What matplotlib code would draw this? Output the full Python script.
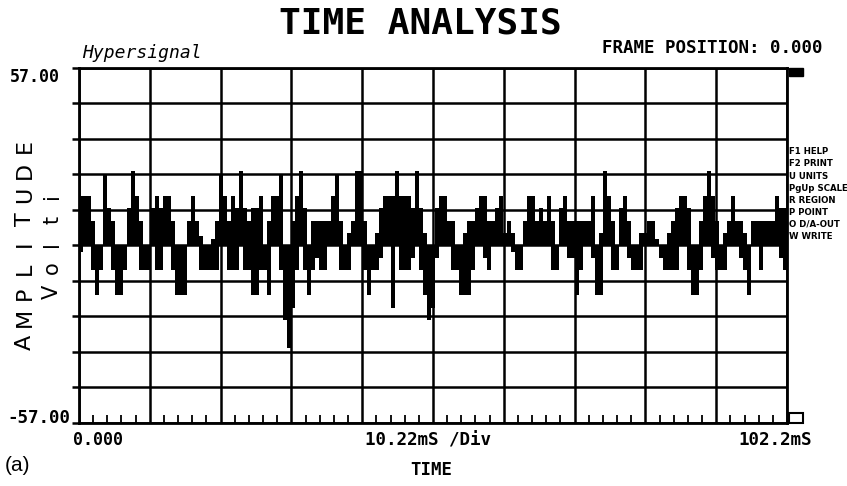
import numpy as np
import matplotlib
matplotlib.use("Agg")
import matplotlib.pyplot as plt
from matplotlib.patches import Rectangle

# ---- chart data -------------------------------------------------------
title = "TIME ANALYSIS"
t_start_ms = 0.0
t_end_ms = 102.2
amp_max = 57.0
x_div_label = "10.22mS /Div"
x_start_label = "0.000"
x_end_label = "102.2mS"
y_top_label = "57.00"
y_bottom_label = "-57.00"
frame_label = "FRAME POSITION: 0.000"

# per-column envelope of the waveform (volts), 177 equal time slices
upper_v = [16, 16, 16, 8, 0, 0, 23, 12, 8, 0, 0, 0, 12, 24, 16, 8, 0, 0, 12, 16,
           12, 16, 16, 8, 0, 0, 0, 8, 16, 8, 3, 0, 0, 2, 8, 23, 16, 8, 16, 12,
           24, 12, 8, 12, 12,
           16, 0, 8, 16, 16, 23, 0, 0, 8, 16, 24, 12, 0, 8, 8, 8, 8, 8, 16, 23,
           8, 0, 4, 8, 24, 24, 8, 0, 0, 4, 12, 16, 16, 16, 24, 16, 16, 16, 12, 24,
           12, 4, 0, 0,
           12, 16, 16, 8, 8, 0, 0, 4, 8, 8, 12, 16, 16, 8, 8, 12, 16, 4, 8, 4,
           0, 0, 8, 16, 16, 8, 12, 8, 16, 8, 0, 12, 16, 8, 8, 8, 8, 8, 8, 16,
           0, 4, 24, 16,
           8, 0, 12, 16, 8, 0, 0, 4, 4, 8, 8, 2, 0, 0, 4, 8, 12, 16, 16, 12,
           0, 0, 8, 16, 24, 16, 8, 0, 4, 8, 16, 8, 8, 4, 0, 8, 8, 8, 8, 8,
           8, 16, 12, 12]
lower_v = [-2, 0, 0, -8, -16, -8, 0, 0, -8, -16, -16, -8, 0, 0, 0, -8, -8, -8, 0, -8,
           -8, 0, 0, -8, -16, -16, -16, 0, 0, 0, -8, -8, -8, -8, -8, 0, 0, -8, -8, -8,
           0, -8, -8, -16, -16,
           -8, -8, -16, 0, 0, -8, -24, -33, -20, -8, 0, -8, -16, -8, -4, -8, -8, 0, 0, 0,
           -8, -8, -8, 0, 0, 0, -8, -16, -8, -8, -4, 0, 0, -20, 0, -8, -8, -8, -4, 0,
           -8, -16, -24, -20,
           -4, 0, 0, 0, -8, -8, -16, -16, -16, -8, 0, 0, -4, -8, 0, 0, 0, 0, 0, -2,
           -8, -8, 0, 0, 0, 0, 0, 0, 0, -8, -8, 0, 0, -4, -4, -16, -8, 0, 0, -4,
           -16, -16, 0, 0,
           -8, -8, 0, 0, -4, -8, -8, -8, 0, 0, 0, 0, -4, -8, -8, -8, -8, 0, 0, -8,
           -16, -16, -8, 0, 0, -4, -8, -8, -8, 0, 0, 0, -4, -8, -16, 0, 0, -8, 0, 0,
           0, 0, -4, -8]

menu_items = ["F1 HELP", "F2 PRINT", "U UNITS", "PgUp SCALE",
              "R REGION", "P POINT", "O D/A-OUT", "W WRITE"]

# ---- figure -------------------------------------------------------------
W, H = 847, 486
fig = plt.figure(figsize=(W / 100, H / 100), dpi=100)
fig.patch.set_facecolor("white")


def fx(x):
    return x / W


def fy(y):
    return 1 - y / H


left, right, top, bottom = 79, 787, 68, 423
ax = fig.add_axes([fx(left), fy(bottom), (right - left) / W, (bottom - top) / H])
ax.set_xlim(t_start_ms, t_end_ms)
ax.set_ylim(-amp_max, amp_max)

# waveform: filled steps between the lower and upper envelope
n = len(upper_v)
edges = np.linspace(t_start_ms, t_end_ms, n + 1)
up = np.append(upper_v, upper_v[-1])
lo = np.append(lower_v, lower_v[-1])
ax.fill_between(edges, lo, up, step="post", color="black", lw=0, zorder=3)

# 10 x 10 grid
ax.set_xticks(np.linspace(t_start_ms, t_end_ms, 11))
ax.set_yticks(np.linspace(-amp_max, amp_max, 11))
ax.set_xticks(np.linspace(t_start_ms, t_end_ms, 51), minor=True)
ax.grid(True, which="major", color="black", lw=1.8, zorder=1)
ax.tick_params(which="major", axis="x", length=0, labelbottom=False)
ax.tick_params(which="major", axis="y", length=5, width=1.8, direction="out",
               labelleft=False, color="black")
ax.tick_params(which="minor", axis="x", length=6, width=1.3, direction="in",
               color="black")
ax.tick_params(which="minor", axis="y", length=0)
for s in ax.spines.values():
    s.set_linewidth(2.0)
    s.set_color("black")
ax.set_axisbelow(True)

mono_b = dict(family="DejaVu Sans Mono", fontweight="bold", color="black")

# title and header
fig.text(fx(420), fy(23), title, ha="center", va="center", fontsize=26, **mono_b)
fig.text(fx(82), fy(58), "Hypersignal", ha="left", va="baseline",
         family="DejaVu Sans Mono", style="italic", fontsize=13, color="black")
fig.text(fx(822), fy(48), frame_label, ha="right", va="center", fontsize=12.6, **mono_b)

# axis end labels
fig.text(fx(10), fy(77), y_top_label, ha="left", va="center", fontsize=12, **mono_b)
fig.text(fx(7), fy(418), y_bottom_label, ha="left", va="center", fontsize=12.6, **mono_b)
fig.text(fx(73), fy(440), x_start_label, ha="left", va="center", fontsize=12, **mono_b)
fig.text(fx(428), fy(440), x_div_label, ha="center", va="center", fontsize=12.6, **mono_b)
fig.text(fx(812), fy(440), x_end_label, ha="right", va="center", fontsize=12.6, **mono_b)
fig.text(fx(431), fy(470), "TIME", ha="center", va="center", fontsize=12.5, **mono_b)
fig.text(fx(5), fy(465), "(a)", ha="left", va="center", family="Liberation Sans",
         fontsize=15, color="black")

# vertical axis title, letter by letter
thin = dict(family="DejaVu Sans", color="black",
            rotation=90, ha="center", va="center")
for i, ch in enumerate("AMPLITUDE"):
    fig.text(fx(25), fy(342 - 24.5 * i), ch, fontsize=16, **thin)
for i, ch in enumerate("Volti"):
    fig.text(fx(52), fy(292 - 24 * i), ch, fontsize=15, **thin)

# side menu
for i, item in enumerate(menu_items):
    fig.text(fx(789), fy(152 + 12 * i), item, ha="left", va="center",
             family=["Liberation Sans Narrow", "DejaVu Sans"], fontweight="bold",
             fontsize=6.2, color="black")

# status markers at the right edge
fig.patches.append(Rectangle((fx(789), fy(76)), 14 / W, 8 / H, transform=fig.transFigure,
                             facecolor="black", edgecolor="black"))
fig.patches.append(Rectangle((fx(789), fy(423)), 14 / W, 10 / H, transform=fig.transFigure,
                             facecolor="white", edgecolor="black", lw=1.5))

fig.savefig("out.png", dpi=100)
